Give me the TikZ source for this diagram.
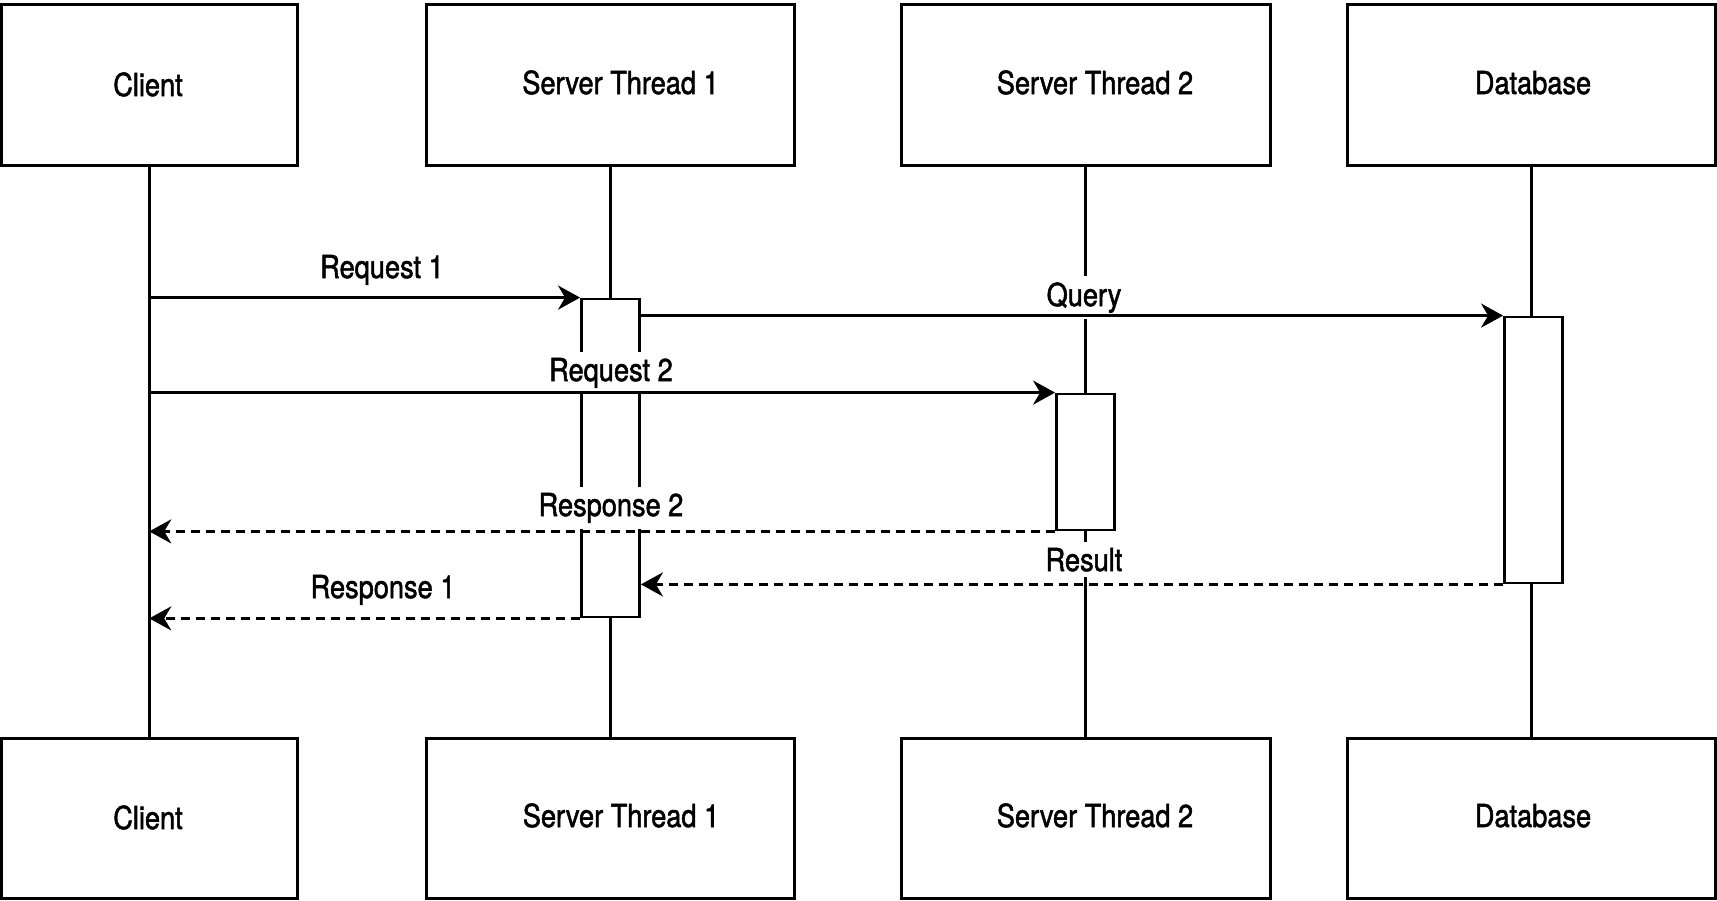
\documentclass[tikz,border=0pt]{standalone}
\usepackage{fontspec}
\setmainfont{TeX Gyre Heros}[FakeStretch=0.86,FakeBold=1.6]
\usetikzlibrary{arrows.meta}
\begin{document}
\begin{tikzpicture}[x=0.5pt,y=-0.5pt,
  txt/.style={font=\fontsize{15.8}{19}\selectfont, inner sep=0pt, anchor=base},
  actor/.style={draw, line width=1.5pt, minimum width=#1, minimum height=80.5pt, inner sep=0pt},
  actorb/.style={draw, line width=1.5pt, minimum width=#1, minimum height=80pt, inner sep=0pt},
  act/.style={draw, fill=white, line width=1.4pt, minimum width=29pt, inner sep=0pt, minimum height=#1},
  life/.style={line width=1.35pt},
  msg/.style={line width=1.4pt, -{Stealth[length=11pt,width=12pt,inset=3.5pt]}},
  ret/.style={msg, dash pattern=on 4.5pt off 3pt},
  mlbl/.style={font=\fontsize{15.8}{19}\selectfont, fill=white, inner sep=3pt, anchor=base}
]
\useasboundingbox (0,0) rectangle (1717,900);
% top actor boxes
\node[actor=147.75pt] (cltop) at (149.25,84.5) {};
\node[actor=184pt]    (s1top) at (610.5,84.5) {};
\node[actor=184.5pt]  (s2top) at (1085.5,84.5) {};
\node[actor=184.25pt] (dbtop) at (1531.25,84.5) {};
% bottom actor boxes
\node[actorb=147.75pt] (clbot) at (149.25,818) {};
\node[actorb=184pt]    (s1bot) at (610.5,818) {};
\node[actorb=184.5pt]  (s2bot) at (1085.5,818) {};
\node[actorb=184.25pt] (dbbot) at (1531.25,818) {};
% box texts
\node[txt] (cltopt) at (148,96) {Client};
\node[txt] (s1topt) at (620.5,94) {Server Thread 1};
\node[txt] (s2topt) at (1095,94) {Server Thread 2};
\node[txt] (dbtopt) at (1533,94) {Database};
\node[txt] (clbott) at (148,829) {Client};
\node[txt] (s1bott) at (621,827) {Server Thread 1};
\node[txt] (s2bott) at (1095,827) {Server Thread 2};
\node[txt] (dbbott) at (1533,827) {Database};
% lifelines
\draw[life] (cltop.south) -- (clbot.north);
\draw[life] (s1top.south) -- (s1bot.north);
\draw[life] (s2top.south) -- (s2bot.north);
\draw[life] (dbtop.south) -- (dbbot.north);
% activation boxes
\node[act=159pt] (act1) at (610.5,458) {};
\node[act=68pt]  (act2) at (1085.5,462) {};
\node[act=133pt] (actdb) at (1533.5,450) {};
% message labels
\node[mlbl] (lreq1) at (382,278) {Request 1};
\node[mlbl] (lquery) at (1084,306) {Query};
\node[mlbl] (lreq2) at (611,381) {Request 2};
\node[mlbl] (lresp2) at (611,516) {Response 2};
\node[mlbl] (lres) at (1084,571) {Result};
\node[mlbl] (lresp1) at (383,598) {Response 1};
% connector end points on lifelines
\coordinate (c1) at (cltop.south |- act1.north west);
\coordinate (q1) at (act1.east |- actdb.north west);
\coordinate (c2) at (cltop.south |- act2.north west);
\coordinate (c3) at (cltop.south |- act2.south west);
\coordinate (r1) at (act1.east |- actdb.south west);
\coordinate (c4) at (cltop.south |- act1.south west);
% messages
\draw[msg] (c1) -- (act1.north west);
\draw[msg] (q1) -- (actdb.north west);
\draw[msg] (c2) -- (act2.north west);
\draw[ret] (act2.south west) -- (c3);
\draw[ret] (actdb.south west) -- (r1);
\draw[ret] (act1.south west) -- (c4);
\end{tikzpicture}
\end{document}
